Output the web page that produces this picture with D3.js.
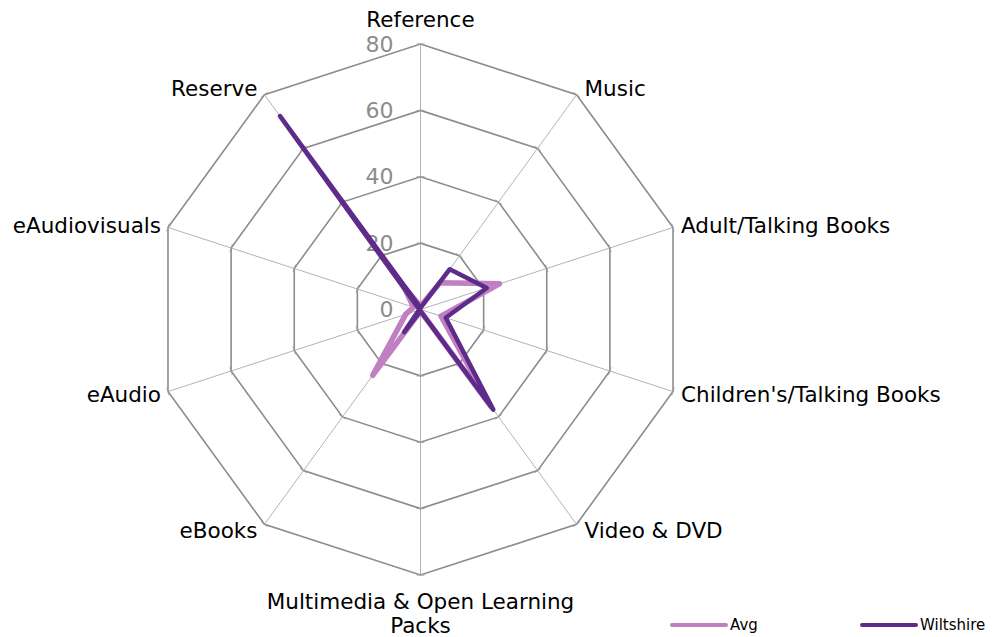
<!DOCTYPE html>
<meta charset="utf-8">
<head>
<script src="https://d3js.org/d3.v7.min.js"></script>
<style>
  body { margin: 0; background: #fff; }
  text { font-family: "DejaVu Sans", Verdana, sans-serif; }
</style>
</head>
<body>
<div id="radar"></div>
<script>
// chart data
var categories = ["Reference", "Music", "Adult/Talking Books", "Children's/Talking Books",
  "Video & DVD", "Multimedia & Open Learning Packs", "eBooks", "eAudio", "eAudiovisuals", "Reserve"];
var avgValues = [1, 10, 25, 6.5, 36, 0.5, 24.5, 4.7, 2.2, 8.5];
var wiltshireValues = [0.5, 15, 21, 8, 37.3, 0.5, 8.4, 0.5, 0.5, 72];
var tickValues = [0, 20, 40, 60, 80];
var seriesNames = ["Avg", "Wiltshire"];
var seriesColors = ["#c07fc0", "#5e2b8a"];

var width = 992, height = 637;
var cx = 420.5, cy = 309.5, R = 265.5;

var svg = d3.select("#radar")
  .append("svg")
    .attr("width", width)
    .attr("height", height);

var g = svg.append("g")
  .attr("transform", "translate(" + cx + "," + cy + ")");

var r = d3.scaleLinear().domain([0, 80]).range([0, R]);
var angle = d3.scaleLinear().domain([0, categories.length]).range([0, 2 * Math.PI]);

function pt(i, v) {
  var a = angle(i);
  return [r(v) * Math.sin(a), -r(v) * Math.cos(a)];
}

// spokes
g.selectAll(".spoke")
  .data(categories)
  .enter().append("line")
    .attr("x1", 0).attr("y1", 0)
    .attr("x2", function(d, i) { return pt(i, 80)[0]; })
    .attr("y2", function(d, i) { return pt(i, 80)[1]; })
    .attr("stroke", "#a0a0a0")
    .attr("stroke-width", 0.8);

// rings
tickValues.filter(function(t) { return t > 0; }).forEach(function(t) {
  var pts = categories.map(function(d, i) { return pt(i, t); });
  g.append("polygon")
    .attr("points", pts.map(function(p) { return p.join(","); }).join(" "))
    .attr("fill", "none")
    .attr("stroke", "#8c8c8c")
    .attr("stroke-width", 1.6);
  // little tick marks at the vertices
  categories.forEach(function(d, i) {
    var a = angle(i), p = pt(i, t);
    var tx = Math.cos(a) * 4, ty = Math.sin(a) * 4;
    g.append("line")
      .attr("x1", p[0] - tx).attr("y1", p[1] - ty)
      .attr("x2", p[0] + tx).attr("y2", p[1] + ty)
      .attr("stroke", "#a0a0a0")
      .attr("stroke-width", 1);
  });
});

// value labels
g.selectAll(".tick")
  .data(tickValues)
  .enter().append("text")
    .attr("x", -27)
    .attr("y", function(d) { return -r(d); })
    .attr("dy", "0.35em")
    .attr("text-anchor", "end")
    .attr("fill", "#8c8c8c")
    .style("font-size", "22px")
    .text(function(d) { return d; });

// series
var line = d3.lineRadial()
  .angle(function(d, i) { return angle(i); })
  .radius(function(d) { return r(d); })
  .curve(d3.curveLinearClosed);

[avgValues, wiltshireValues].forEach(function(vals, k) {
  g.append("path")
    .attr("d", line(vals))
    .attr("fill", "none")
    .attr("stroke", seriesColors[k])
    .attr("stroke-width", k === 0 ? 5.5 : 4.5)
    .attr("stroke-linejoin", "round")
    .attr("stroke-linecap", "round");
});

// category labels
categories.forEach(function(c, i) {
  var p = pt(i, 80);
  var a = angle(i);
  var s = Math.sin(a), co = Math.cos(a);
  var anchor = Math.abs(s) < 0.01 ? "middle" : (s > 0 ? "start" : "end");
  var x = p[0] + (Math.abs(s) < 0.01 ? 0 : (s > 0 ? 8 : -7));
  var y = p[1];
  if (Math.abs(s) < 0.01) {
    y = co > 0 ? p[1] - 25 : p[1] + 26;
  } else {
    y = p[1] - co * 8;
  }
  var t = g.append("text")
    .attr("x", x)
    .attr("y", y)
    .attr("text-anchor", anchor)
    .attr("dy", "0.35em")
    .attr("fill", "#000")
    .style("font-size", "21.5px");
  if (c === "Multimedia & Open Learning Packs") {
    t.append("tspan").attr("x", x).text("Multimedia & Open Learning");
    t.append("tspan").attr("x", x).attr("dy", "1.16em").text("Packs");
  } else {
    t.text(c);
  }
});

// legend
var legendX = [672, 862];
seriesNames.forEach(function(name, k) {
  svg.append("line")
    .attr("x1", legendX[k]).attr("x2", legendX[k] + 54)
    .attr("y1", 625).attr("y2", 625)
    .attr("stroke", seriesColors[k])
    .attr("stroke-width", 4)
    .attr("stroke-linecap", "round");
  svg.append("text")
    .attr("x", legendX[k] + 58)
    .attr("y", 625)
    .attr("dy", "0.35em")
    .style("font-size", "15px")
    .attr("fill", "#000")
    .text(name);
});
</script>
</body>
